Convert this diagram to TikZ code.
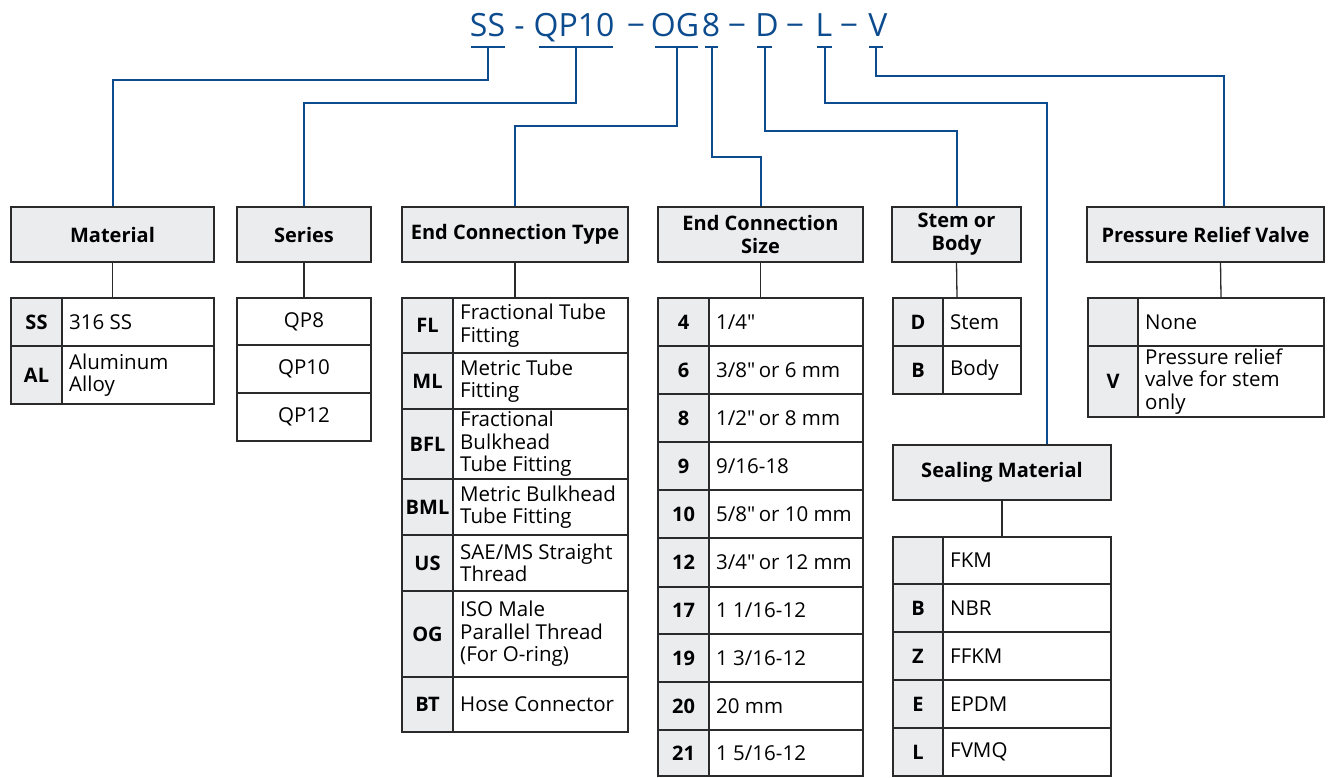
\documentclass[tikz,border=0pt]{standalone}
\usepackage{fontspec}
\setmainfont{Open Sans}
\newfontfamily\plainf{Open Sans}
\definecolor{codeblue}{HTML}{0C4B8E}
\definecolor{lineg}{HTML}{2A2A2A}
\definecolor{hfill}{HTML}{EBECEE}
\newcommand\qt{{\plainf"}}
\tikzset{
  bl/.style={draw=codeblue, line width=2pt},
  gl/.style={draw=lineg, line width=1.3pt},
  hdr/.style={draw=lineg, fill=hfill, line width=1.4pt, font=\bfseries\fontsize{20}{23}\selectfont, align=center, inner sep=0pt},
  tbl/.style={draw=lineg, line width=1.4pt, inner sep=0pt},
  cell/.style={draw=lineg, line width=1.4pt},
  keycell/.style={cell, fill=hfill},
  keytxt/.style={font=\bfseries\fontsize{20}{23}\selectfont, inner sep=0pt},
  desc/.style={font=\fontsize{20.5}{22.5}\selectfont, align=left, anchor=west, inner sep=0pt},
  ctr/.style={font=\fontsize{20.5}{22.5}\selectfont, inner sep=0pt},
  code/.style={text=codeblue, font=\fontsize{32}{36}\selectfont, inner sep=0pt, anchor=base},
}
% row: name, x0, xdiv, x1, y0, y1, key, description
\newcommand\trow[8]{%
  \draw[keycell] (#2,#5) rectangle (#3,#6);
  \draw[cell, fill=white] (#3,#5) rectangle (#4,#6);
  \node[keytxt] (#1k) at ({(#2+#3)/2},{(#5+#6)/2}) {#7};
  \node[desc] (#1d) at ({#3+7},{(#5+#6)/2}) {#8};
}
% single-column row: name, x0, x1, y0, y1, text
\newcommand\srow[6]{%
  \draw[cell, fill=white] (#2,#4) rectangle (#3,#5);
  \node[ctr] (#1) at ({(#2+#3)/2},{(#4+#5)/2}) {#6};
}
\begin{document}
\begin{tikzpicture}[x=1pt,y=-1pt]
\useasboundingbox (0,0) rectangle (1335,777);

% ---- code line ----
\node[code] (cSS) at (487.5,36) {SS};
\node[code] (d1) at (519.5,36) {-};
\node[code] (cQP) at (574,36) {QP10};
\node[code] (d2) at (636,36) {−};
\node[code] (cOG) at (675,36) {OG};
\node[code] (c8) at (711,36) {8};
\node[code] (d3) at (737,36) {−};
\node[code] (cD) at (767,36) {D};
\node[code] (d4) at (795,36) {−};
\node[code] (cL) at (824,36) {L};
\node[code] (d5) at (849,36) {−};
\node[code] (cV) at (878,36) {V};

\coordinate (uSS) at (488,47);
\coordinate (uQP) at (576,47);
\coordinate (uOG) at (676.5,47);
\coordinate (u8) at (711.5,47);
\coordinate (uD) at (764.5,47);
\coordinate (uL) at (824.5,47);
\coordinate (uV) at (876,47);
\draw[bl] ([xshift=-17pt]uSS) -- ([xshift=17pt]uSS);
\draw[bl] ([xshift=-37pt]uQP) -- ([xshift=37pt]uQP);
\draw[bl] ([xshift=-21.5pt]uOG) -- ([xshift=21.5pt]uOG);
\draw[bl] ([xshift=-6.5pt]u8) -- ([xshift=6.5pt]u8);
\draw[bl] ([xshift=-7.5pt]uD) -- ([xshift=7.5pt]uD);
\draw[bl] ([xshift=-7.5pt]uL) -- ([xshift=7.5pt]uL);
\draw[bl] ([xshift=-7pt]uV) -- ([xshift=7pt]uV);

% ---- headers ----
\node[hdr, minimum width=203pt, minimum height=55pt] (mat) at (112.5,234.5) {Material};
\node[hdr, minimum width=134pt, minimum height=55pt] (ser) at (304,234.5) {Series};
\node[hdr, minimum width=226pt, minimum height=55pt] (ect) at (515,234.5) {End Connection Type};
\node[hdr, minimum width=205pt, minimum height=55pt] (ecs) at (760.5,234.5) {End Connection\\Size};
\node[hdr, minimum width=129pt, minimum height=55pt] (sob) at (956.5,234.5) {Stem or\\Body};
\node[hdr, minimum width=237pt, minimum height=55pt] (prv) at (1205.5,234.5) {Pressure Relief Valve};
\node[hdr, minimum width=218pt, minimum height=55pt] (sm) at (1002,472.5) {Sealing Material};

% ---- blue connectors ----
\draw[bl] (uSS) -- ++(0,33) -| (mat.north);
\draw[bl] (uQP) -- ++(0,56) -| (ser.north);
\draw[bl] (uOG) -- ++(0,79) -| (ect.north);
\draw[bl] (u8) -- ++(0,110) -| (ecs.north);
\draw[bl] (uD) -- ++(0,84) -| (sob.north);
\draw[bl] (uL) -- ++(0,56) -| ([xshift=45pt]sm.north);
\draw[bl] (uV) -- ++(0,29) -| ([xshift=18pt]prv.north);

% ---- Material table ----
\trow{m1}{11}{62}{214}{298}{346}{SS}{316 SS}
\trow{m2}{11}{62}{214}{346}{404}{AL}{Aluminum\\Alloy}
\node[tbl, minimum width=203pt, minimum height=106pt] (matT) at (112.5,351) {};

% ---- Series table ----
\srow{s1}{237}{371}{298}{345}{QP8}
\srow{s2}{237}{371}{345}{393}{QP10}
\srow{s3}{237}{371}{393}{441}{QP12}
\node[tbl, minimum width=134pt, minimum height=143pt] (serT) at (304,369.5) {};

% ---- End connection type ----
\trow{e1}{402}{453}{628}{298}{353}{FL}{Fractional Tube\\Fitting}
\trow{e2}{402}{453}{628}{353}{409}{ML}{Metric Tube\\Fitting}
\trow{e3}{402}{453}{628}{409}{479}{BFL}{Fractional\\Bulkhead\\Tube Fitting}
\trow{e4}{402}{453}{628}{479}{535}{BML}{Metric Bulkhead\\Tube Fitting}
\trow{e5}{402}{453}{628}{535}{591}{US}{SAE/MS Straight\\Thread}
\trow{e6}{402}{453}{628}{591}{677}{OG}{ISO Male\\Parallel Thread\\(For O-ring)}
\trow{e7}{402}{453}{628}{677}{732}{BT}{Hose Connector}
\node[tbl, minimum width=226pt, minimum height=434pt] (ectT) at (515,515) {};

% ---- End connection size ----
\trow{z1}{658}{709}{863}{298}{346}{4}{1/4\qt}
\trow{z2}{658}{709}{863}{346}{394}{6}{3/8\qt\,or 6 mm}
\trow{z3}{658}{709}{863}{394}{442}{8}{1/2\qt\,or 8 mm}
\trow{z4}{658}{709}{863}{442}{490}{9}{9/16-18}
\trow{z5}{658}{709}{863}{490}{538}{10}{5/8\qt\,or 10 mm}
\trow{z6}{658}{709}{863}{538}{587}{12}{3/4\qt\,or 12 mm}
\trow{z7}{658}{709}{863}{587}{634}{17}{1 1/16-12}
\trow{z8}{658}{709}{863}{634}{682}{19}{1 3/16-12}
\trow{z9}{658}{709}{863}{682}{730}{20}{20 mm}
\trow{z10}{658}{709}{863}{730}{776}{21}{1 5/16-12}
\node[tbl, minimum width=205pt, minimum height=478pt] (ecsT) at (760.5,537) {};

% ---- Stem or body ----
\trow{b1}{893}{943}{1021}{298}{346}{D}{Stem}
\trow{b2}{893}{943}{1021}{346}{394}{B}{Body}
\node[tbl, minimum width=128pt, minimum height=96pt] (sobT) at (957,346) {};

% ---- Pressure relief valve ----
\trow{p1}{1088}{1138}{1324}{298}{346}{}{None}
\trow{p2}{1088}{1138}{1324}{346}{417}{V}{Pressure relief\\valve for stem\\only}
\node[tbl, minimum width=236pt, minimum height=119pt] (prvT) at (1206,357.5) {};

% ---- Sealing material ----
\trow{q1}{893}{943}{1111}{537}{584}{}{FKM}
\trow{q2}{893}{943}{1111}{584}{632}{B}{NBR}
\trow{q3}{893}{943}{1111}{632}{680}{Z}{FFKM}
\trow{q4}{893}{943}{1111}{680}{728}{E}{EPDM}
\trow{q5}{893}{943}{1111}{728}{776}{L}{FVMQ}
\node[tbl, minimum width=218pt, minimum height=239pt] (smT) at (1002,656.5) {};

% ---- gray connectors ----
\draw[gl] (mat.south) -- (matT.north);
\draw[gl] (ser.south) -- (serT.north);
\draw[gl] (ect.south) -- (ectT.north);
\draw[gl] (ecs.south) -- (ecsT.north);
\draw[gl] (sob.south) -- (sobT.north);
\draw[gl] ([xshift=15pt]prv.south) -- ([xshift=15pt]prvT.north);
\draw[gl] (sm.south) -- (smT.north);
\end{tikzpicture}
\end{document}
